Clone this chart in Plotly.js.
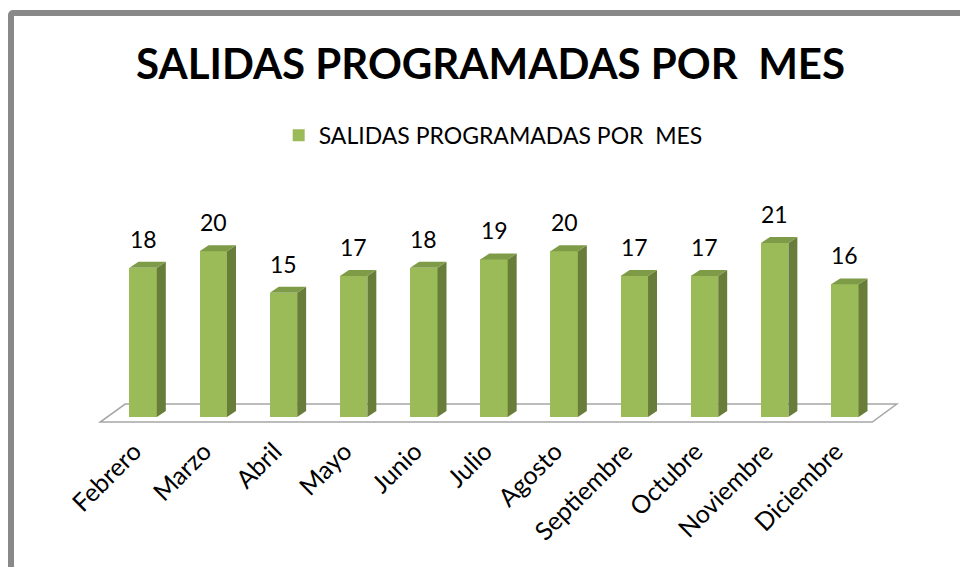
<!DOCTYPE html>
<html>
<head>
<meta charset="utf-8">
<script src="https://cdn.plot.ly/plotly-3.0.1.min.js"></script>
<style>
html,body{margin:0;padding:0;background:#fff;overflow:hidden;}
#wrap{position:relative;width:960px;height:567px;overflow:hidden;}
#chart{width:960px;height:567px;}
#frame{position:absolute;left:8px;top:10px;width:1000px;height:700px;border:6px solid #898989;border-radius:5px;pointer-events:none;box-sizing:border-box;}
</style>
</head>
<body>
<div id="wrap"><div id="chart"></div><div id="frame"></div></div>
<script>
// ---- data ----
const months = ["Febrero","Marzo","Abril","Mayo","Junio","Julio","Agosto","Septiembre","Octubre","Noviembre","Diciembre"];
const salidas = [18, 20, 15, 17, 18, 19, 20, 17, 17, 21, 16];
const seriesName = "SALIDAS PROGRAMADAS POR  MES";
const chartTitle = "SALIDAS PROGRAMADAS POR  MES";

// ---- style / projection constants ----
const FONT = "Lato, 'Open Sans', sans-serif";
const barW = 0.39;        // bar width in category units
const depX = 0.128;       // 3D depth offset (category units)
const depY = 0.72;        // 3D depth offset (value units)
const FRONT = "#9BBB59", SIDE = "#687D39", TOP = "#7E9B48";

const idx = months.map((m, i) => i);

const shapes = [];
// floor
shapes.push({
  type: "path", xref: "x", yref: "y", layer: "below",
  path: "M -0.612,-0.6 L 10.39,-0.6 L 10.74,1.57 L -0.256,1.57 Z",
  fillcolor: "#ffffff", line: {color: "#a6a6a6", width: 1.5}
});
idx.forEach(i => {
  const v = salidas[i];
  const l = i - barW / 2, r = i + barW / 2;
  shapes.push({
    type: "path", xref: "x", yref: "y", layer: "above",
    path: `M ${r},0 L ${r + depX},${depY} L ${r + depX},${v + depY} L ${r},${v} Z`,
    fillcolor: SIDE, line: {width: 0}
  });
  shapes.push({
    type: "path", xref: "x", yref: "y", layer: "above",
    path: `M ${l},${v} L ${l + depX},${v + depY} L ${r + depX},${v + depY} L ${r},${v} Z`,
    fillcolor: TOP, line: {width: 0}
  });
});

const annotations = idx.map(i => ({
  x: i, y: salidas[i], xref: "x", yref: "y",
  text: String(salidas[i]), showarrow: false,
  yanchor: "bottom", xanchor: "center", yshift: 13,
  font: {family: FONT, size: 23, color: "#000"}
}));

const trace = {
  type: "bar", x: idx, y: salidas, width: barW, name: seriesName,
  marker: {color: FRONT, line: {width: 0}},
  showlegend: true, hoverinfo: "none"
};

const layout = {
  width: 960, height: 567,
  paper_bgcolor: "#fff", plot_bgcolor: "rgba(0,0,0,0)",
  margin: {l: 86.8, r: 58.5, t: 217.8, b: 140, pad: 0},
  title: {
    text: "<b>" + chartTitle + "</b>", xref: "container", yref: "container",
    x: 0.511, xanchor: "center", y: 0.887, yanchor: "middle",
    font: {family: FONT, size: 42, color: "#000"}
  },
  showlegend: true,
  legend: {
    orientation: "h", x: 0.499, xanchor: "center", y: 1.396, yanchor: "middle",
    font: {family: FONT, size: 23, color: "#000"}, bgcolor: "rgba(0,0,0,0)"
  },
  xaxis: {
    type: "linear", range: [-0.8, 10.8], tickmode: "array",
    tickvals: idx, ticktext: months, tickangle: -45,
    ticks: "", ticklabelshift: -9, ticklabelstandoff: 4,
    showgrid: false, zeroline: false, showline: false,
    tickfont: {family: FONT, size: 25, color: "#000"}, fixedrange: true
  },
  yaxis: {
    range: [-1.2, 24], visible: false, showgrid: false, zeroline: false, fixedrange: true
  },
  shapes: shapes,
  annotations: annotations,
  bargap: 0
};

Plotly.newPlot("chart", [trace], layout, {displayModeBar: false, staticPlot: true});
</script>
</body>
</html>
